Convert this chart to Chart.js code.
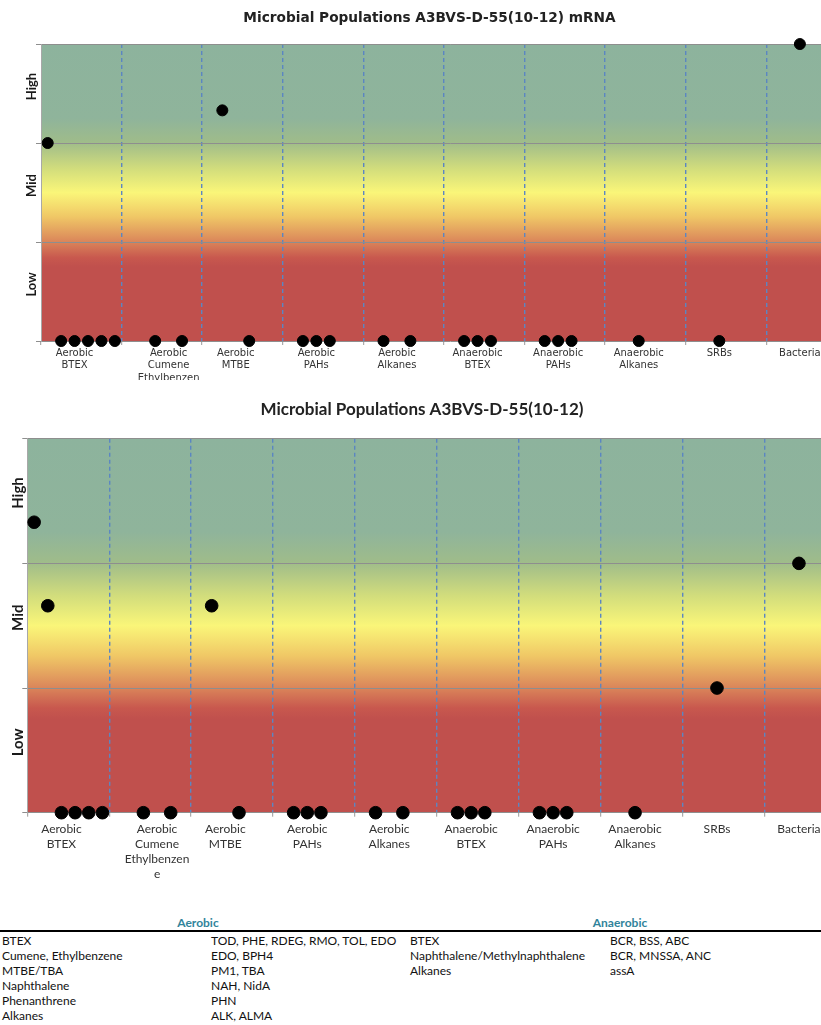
<!DOCTYPE html>
<html>
<head>
<meta charset="utf-8">
<script src="https://cdn.jsdelivr.net/npm/chart.js@4.4.1/dist/chart.umd.min.js"></script>
<style>
  body { margin: 0; background: #fff; width: 821px; height: 1025px; overflow: hidden; position: relative; font-family: Lato, sans-serif; }
  canvas { position: absolute; left: 0; }
  #mrnaChart { top: 0; }
  #dnaChart { top: 392px; }
  .hdr { position: absolute; top: 915px; font-weight: bold; font-size: 12px; color: #31849b; text-align: center; }
  .rule { position: absolute; left: 0; top: 930px; width: 821px; height: 2px; background: #000; }
  .col { position: absolute; top: 933px; font-size: 12px; line-height: 15px; color: #111; white-space: nowrap; }
</style>
</head>
<body>
<!-- both charts are wider than the page: the original picture was cropped on the right -->
<canvas id="mrnaChart" width="859" height="380"></canvas>
<canvas id="dnaChart" width="844" height="500"></canvas>

<div class="hdr" style="left:0;width:396px">Aerobic</div>
<div class="hdr" style="left:410px;width:420px">Anaerobic</div>
<div class="rule"></div>
<div class="col" id="aeroTarget" style="left:2px"></div>
<div class="col" id="aeroGene" style="left:211px"></div>
<div class="col" id="anaTarget" style="left:410px"></div>
<div class="col" id="anaGene" style="left:610px"></div>

<script>
// ---- data ----
const categories = [
  ["Aerobic", "BTEX"],
  ["Aerobic", "Cumene", "Ethylbenzen", "e"],
  ["Aerobic", "MTBE"],
  ["Aerobic", "PAHs"],
  ["Aerobic", "Alkanes"],
  ["Anaerobic", "BTEX"],
  ["Anaerobic", "PAHs"],
  ["Anaerobic", "Alkanes"],
  ["SRBs"],
  ["Bacteria"]
];
// slot under which each category name sits
const labelSlot = [2, 3, 2, 2, 2, 2, 2, 2, 2, 2];
const levelLabels = ["Low", "Mid", "High"];

// each point: category index, slot inside the category (0-5), level (0 = Low floor, 3 = High top)
const pointCat  = [0, 0, 0, 0, 0, 0, 1, 1, 2, 2, 3, 3, 3, 4, 4, 5, 5, 5, 6, 6, 6, 7, 8, 9];
const pointSlot = [0, 1, 2, 3, 4, 5, 2, 4, 1, 3, 1, 2, 3, 1, 3, 1, 2, 3, 1, 2, 3, 2, 2, 2];
const mrnaLevel = [2, 0, 0, 0, 0, 0, 0, 0, 2.33, 0, 0, 0, 0, 0, 0, 0, 0, 0, 0, 0, 0, 0, 0, 3];
const dnaLevel  = [2.33, 1.66, 0, 0, 0, 0, 0, 0, 1.66, 0, 0, 0, 0, 0, 0, 0, 0, 0, 0, 0, 0, 0, 1, 2];

const aerobicTargets   = ["BTEX", "Cumene, Ethylbenzene", "MTBE/TBA", "Naphthalene", "Phenanthrene", "Alkanes"];
const aerobicGenes     = ["TOD, PHE, RDEG, RMO, TOL, EDO", "EDO, BPH4", "PM1, TBA", "NAH, NidA", "PHN", "ALK, ALMA"];
const anaerobicTargets = ["BTEX", "Naphthalene/Methylnaphthalene", "Alkanes"];
const anaerobicGenes   = ["BCR, BSS, ABC", "BCR, MNSSA, ANC", "assA"];

// ---- layout helpers ----
const SLOTS = 6;

const boundaryTicks = categories.map((c, i) => i * SLOTS);
const labelTicks = categories.map((c, i) => i * SLOTS + labelSlot[i] + 0.5);
const labelByValue = {};
labelTicks.forEach((v, i) => (labelByValue[v] = categories[i]));

function toPoints(levels) {
  return levels.map((lv, i) => ({ x: pointCat[i] * SLOTS + pointSlot[i] + 0.5, y: lv }));
}

const bandBackground = {
  id: "bandBackground",
  beforeDraw(chart) {
    const { ctx, scales: { y }, chartArea: a } = chart;
    const top = y.getPixelForValue(3), bottom = y.getPixelForValue(0);
    const g = ctx.createLinearGradient(0, top, 0, bottom);
    g.addColorStop(0, "#8db39d");
    g.addColorStop(0.25, "#8fb49b");
    g.addColorStop(0.33, "#9fbc8a");
    g.addColorStop(0.42, "#d2dd7c");
    g.addColorStop(0.5, "#faf679");
    g.addColorStop(0.58, "#f0c866");
    g.addColorStop(0.66, "#dc8a5b");
    g.addColorStop(0.72, "#c8584e");
    g.addColorStop(0.75, "#c0504d");
    g.addColorStop(1, "#c0504d");
    ctx.save();
    ctx.fillStyle = g;
    ctx.fillRect(a.left, top, a.right - a.left, bottom - top);
    ctx.restore();
  }
};

const levelNames = {
  id: "levelNames",
  afterDraw(chart, args, opts) {
    const { ctx, scales: { y } } = chart;
    levelLabels.forEach((t, i) => {
      const py = y.getPixelForValue(i + 0.5) - opts.shift;
      ctx.save();
      ctx.translate(opts.x, py);
      ctx.rotate(-Math.PI / 2);
      ctx.font = opts.font;
      ctx.fillStyle = "#1a1a1a";
      ctx.textAlign = "center";
      ctx.textBaseline = "middle";
      ctx.fillText(t, 0, 0);
      ctx.restore();
    });
  }
};

function makeChart(id, s) {
  return new Chart(document.getElementById(id), {
    type: "scatter",
    data: {
      datasets: [{
        data: toPoints(s.levels),
        backgroundColor: "#000",
        borderColor: "#000",
        pointRadius: s.radius,
        pointHoverRadius: s.radius,
        clip: false
      }]
    },
    plugins: [bandBackground, levelNames],
    options: {
      responsive: false,
      animation: false,
      layout: { autoPadding: false, padding: 0 },
      plugins: {
        legend: { display: false },
        tooltip: { enabled: false },
        title: {
          display: true,
          text: s.title,
          color: "#222",
          font: s.titleFont,
          padding: s.titlePad
        },
        levelNames: s.levelOpts
      },
      scales: {
        x: {
          type: "linear",
          min: 0,
          max: s.xMax,
          afterBuildTicks(sc) {
            sc.ticks = [...boundaryTicks, ...labelTicks].sort((a, b) => a - b).map(v => ({ value: v }));
          },
          afterFit(sc) {
            sc.height = s.xHeight;
            sc.paddingLeft = 0;
            sc.paddingRight = 0;
          },
          ticks: {
            autoSkip: false,
            maxRotation: 0,
            minRotation: 0,
            padding: s.tickPad,
            color: "#333",
            font: s.tickFont,
            callback: v => labelByValue[v] || ""
          },
          grid: {
            color: c => (c.tick && c.tick.value % SLOTS === 0 && c.tick.value > 0 ? "#5b86c2" : "transparent"),
            lineWidth: 1.4,
            tickColor: c => (c.tick && c.tick.value % SLOTS === 0 ? "#999" : "transparent"),
            tickLength: 4,
            tickWidth: 1,
            tickBorderDash: []
          },
          border: { display: false, dash: [4, 3] }
        },
        y: {
          min: 0,
          max: 3,
          afterBuildTicks(sc) {
            sc.ticks = [0, 1, 2, 3].map(v => ({ value: v }));
          },
          afterFit(sc) {
            sc.width = s.yWidth;
          },
          ticks: { display: false },
          grid: { color: "#8e8e8e", lineWidth: 1, tickLength: 5, tickColor: "#8e8e8e" },
          border: { color: "#a8a8a8" }
        }
      }
    }
  });
}

makeChart("mrnaChart", {
  title: "Microbial Populations A3BVS-D-55(10-12) mRNA",
  titleFont: { family: "DejaVu Sans", size: 13.7, weight: "bold" },
  titlePad: { top: 10.6, bottom: 17 },
  levels: mrnaLevel,
  radius: 5.5,
  xMax: 60.9,
  yWidth: 41,
  xHeight: 39,
  tickPad: 2,
  tickFont: { family: "DejaVu Sans", size: 10, lineHeight: 1.25 },
  levelOpts: { x: 31.5, shift: 7, font: "bold 13px Lato" }
});

makeChart("dnaChart", {
  title: "Microbial Populations A3BVS-D-55(10-12)",
  titleFont: { family: "Lato", size: 17, weight: "bold" },
  titlePad: { top: 7, bottom: 19.3 },
  levels: dnaLevel,
  radius: 6.3,
  xMax: 59.8,
  yWidth: 27.3,
  xHeight: 79.3,
  tickPad: 5,
  tickFont: { family: "Lato", size: 12, lineHeight: 1.25 },
  levelOpts: { x: 18, shift: 8, font: "bold 15px Lato" }
});

// ---- gene table ----
function fill(id, rows) {
  document.getElementById(id).innerHTML = rows.map(r => `<div>${r}</div>`).join("");
}
fill("aeroTarget", aerobicTargets);
fill("aeroGene", aerobicGenes);
fill("anaTarget", anaerobicTargets);
fill("anaGene", anaerobicGenes);
</script>
</body>
</html>
